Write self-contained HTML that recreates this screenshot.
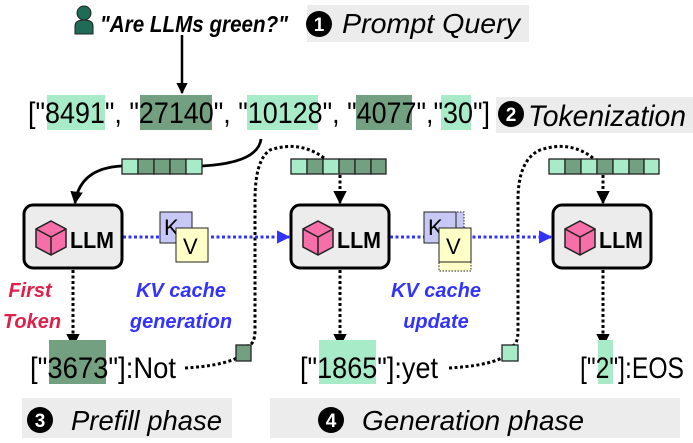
<!DOCTYPE html>
<html><head><meta charset="utf-8"><style>body{margin:0;background:#fff}svg{display:block}text{font-family:"Liberation Sans",sans-serif}</style></head>
<body>
<svg width="693" height="443" viewBox="0 0 693 443" xmlns="http://www.w3.org/2000/svg">
<defs>
<marker id="ah" viewBox="0 0 10 10" refX="9" refY="5" markerWidth="4.5" markerHeight="4.5" orient="auto"><path d="M0,0 L10,5 L0,10 z" fill="#000"/></marker>
<marker id="ahb" viewBox="0 0 10 10" refX="9" refY="5" markerWidth="4.5" markerHeight="4.5" orient="auto"><path d="M0,0 L10,5 L0,10 z" fill="#3333ff"/></marker>
<g id="cube"><path d="M15,0 L30,8 L30,26 L15,34 L0,26 L0,8 Z" fill="#f76fa8" stroke="#222" stroke-width="1.5"/><path d="M0,8 L15,16 L30,8 M15,16 L15,34" fill="none" stroke="#222" stroke-width="1.5"/></g>
</defs>
<circle cx="84" cy="13" r="7" fill="#1f6b55" stroke="#222" stroke-width="1"/>
<path d="M75,34 L75,26 Q75,20 84,20 Q93,20 93,26 L93,34 Z" fill="#1f6b55" stroke="#222" stroke-width="1"/>
<text x="100" y="32" font-size="23" font-weight="bold" font-style="italic" textLength="188" lengthAdjust="spacingAndGlyphs">"Are LLMs green?"</text>
<rect x="307" y="5" width="222" height="37" fill="#ececec"/>
<circle cx="319" cy="24" r="13" fill="#000"/><text x="319" y="31" font-size="19" font-weight="bold" fill="#fff" text-anchor="middle">1</text>
<text x="342" y="33" font-size="28" font-style="italic" textLength="178" lengthAdjust="spacingAndGlyphs">Prompt Query</text>
<line x1="182" y1="35" x2="182" y2="93" stroke="#000" stroke-width="2.5" marker-end="url(#ah)"/>
<rect x="47" y="95" width="58" height="35" fill="#a8ebc8"/>
<rect x="140" y="95" width="72" height="35" fill="#73a080"/>
<rect x="247" y="95" width="71" height="35" fill="#a8ebc8"/>
<rect x="356" y="95" width="56" height="35" fill="#73a080"/>
<rect x="441" y="95" width="30" height="35" fill="#a8ebc8"/>
<text x="28" y="123" font-size="30" textLength="462" lengthAdjust="spacingAndGlyphs">["8491", "27140", "10128", "4077","30"]</text>
<rect x="496" y="97" width="197" height="36" fill="#ececec"/>
<circle cx="511" cy="114" r="13" fill="#000"/><text x="511" y="121" font-size="19" font-weight="bold" fill="#fff" text-anchor="middle">2</text>
<text x="528" y="126" font-size="30" font-style="italic" textLength="158" lengthAdjust="spacingAndGlyphs">Tokenization</text>
<path d="M261,139 Q258,163 202,166 L122,166 Q80,168 75,203" fill="none" stroke="#000" stroke-width="2.8" marker-end="url(#ah)"/>
<g stroke="#222" stroke-width="1.3">
<rect x="122" y="159" width="16" height="15" fill="#a8ebc8"/><rect x="138" y="159" width="16" height="15" fill="#73a080"/><rect x="154" y="159" width="16" height="15" fill="#73a080"/><rect x="170" y="159" width="16" height="15" fill="#73a080"/><rect x="186" y="159" width="16" height="15" fill="#a8ebc8"/>
<rect x="291" y="159" width="16" height="15" fill="#a8ebc8"/><rect x="307" y="159" width="16" height="15" fill="#73a080"/><rect x="323" y="159" width="16" height="15" fill="#a8ebc8"/><rect x="339" y="159" width="16" height="15" fill="#73a080"/><rect x="355" y="159" width="16" height="15" fill="#73a080"/><rect x="371" y="159" width="15" height="15" fill="#73a080"/>
<rect x="549" y="159" width="16" height="15" fill="#a8ebc8"/><rect x="565" y="159" width="16" height="15" fill="#73a080"/><rect x="581" y="159" width="16" height="15" fill="#a8ebc8"/><rect x="597" y="159" width="16" height="15" fill="#73a080"/><rect x="613" y="159" width="16" height="15" fill="#a8ebc8"/><rect x="629" y="159" width="15" height="15" fill="#73a080"/><rect x="644" y="159" width="15" height="15" fill="#a8ebc8"/>
</g>
<g fill="none" stroke="#000" stroke-width="3" stroke-dasharray="3,2.5">
<path d="M324,158 Q300,140 270,150 Q255,160 255,200 L255,330 Q255,345 247,346"/>
<path d="M593,158 Q570,140 540,150 Q518,160 518,200 L518,330 Q518,345 512,346"/>
<path d="M185,368 Q220,366 237,358"/>
<path d="M449,368 Q485,366 502,358"/>
<line x1="340" y1="175" x2="340" y2="203" marker-end="url(#ah)"/>
<line x1="603" y1="175" x2="603" y2="203" marker-end="url(#ah)"/>
<line x1="73" y1="270" x2="73" y2="346" marker-end="url(#ah)"/>
<line x1="340" y1="270" x2="340" y2="346" marker-end="url(#ah)"/>
<line x1="603" y1="270" x2="603" y2="346" marker-end="url(#ah)"/>
</g>
<rect x="236" y="345" width="15" height="16" fill="#73a080" stroke="#222" stroke-width="1.3"/>
<rect x="502" y="345" width="16" height="16" fill="#a8ebc8" stroke="#222" stroke-width="1.3"/>
<g stroke="#3333ff" stroke-width="3" stroke-dasharray="3,2.5" fill="none">
<line x1="123" y1="237" x2="289" y2="237" marker-end="url(#ahb)"/>
<line x1="390" y1="237" x2="551" y2="237" marker-end="url(#ahb)"/>
</g>
<g>
<rect x="24" y="205" width="98" height="63" rx="9" fill="#ececec" stroke="#000" stroke-width="3"/>
<use href="#cube" x="36" y="221"/><text x="70" y="248" font-size="23" font-weight="bold" textLength="44" lengthAdjust="spacingAndGlyphs">LLM</text>
<rect x="291" y="205" width="98" height="63" rx="9" fill="#ececec" stroke="#000" stroke-width="3"/>
<use href="#cube" x="303" y="221"/><text x="337" y="248" font-size="23" font-weight="bold" textLength="44" lengthAdjust="spacingAndGlyphs">LLM</text>
<rect x="553" y="205" width="98" height="63" rx="9" fill="#ececec" stroke="#000" stroke-width="3"/>
<use href="#cube" x="565" y="221"/><text x="599" y="248" font-size="23" font-weight="bold" textLength="44" lengthAdjust="spacingAndGlyphs">LLM</text>
</g>
<rect x="160" y="212" width="32" height="31" fill="#c8c8f5" stroke="#222" stroke-width="1"/><text x="164" y="235" font-size="22">K</text>
<rect x="176" y="228" width="32" height="34" fill="#ffffc8" stroke="#222" stroke-width="1"/><text x="183" y="254" font-size="22">V</text>
<rect x="424" y="212" width="40" height="31" fill="#c8c8f5" stroke="#222" stroke-width="1" stroke-dasharray="1.5,1.5"/>
<rect x="424" y="212" width="32" height="31" fill="#c8c8f5" stroke="#222" stroke-width="1"/><text x="428" y="235" font-size="22">K</text>
<rect x="439" y="228" width="32" height="43" fill="#ffffc8" stroke="#222" stroke-width="1" stroke-dasharray="1.5,1.5"/>
<rect x="439" y="228" width="32" height="34" fill="#ffffc8" stroke="#222" stroke-width="1"/><text x="446" y="254" font-size="22">V</text>
<g font-weight="bold" font-style="italic" font-size="20" fill="#3333ff" text-anchor="middle">
<text x="181" y="297">KV cache</text><text x="181" y="328">generation</text>
<text x="436" y="297">KV cache</text><text x="436" y="328">update</text>
</g>
<g font-weight="bold" font-style="italic" font-size="20" fill="#e0204a" text-anchor="middle">
<text x="30" y="297">First</text><text x="32" y="328">Token</text>
</g>
<rect x="49" y="340" width="57" height="44" fill="#73a080"/>
<rect x="319" y="340" width="57" height="44" fill="#a8ebc8"/>
<rect x="598" y="340" width="15" height="44" fill="#a8ebc8"/>
<text x="30" y="378" font-size="30" textLength="146" lengthAdjust="spacingAndGlyphs">["3673"]:Not</text>
<text x="300" y="378" font-size="30" textLength="138" lengthAdjust="spacingAndGlyphs">["1865"]:yet</text>
<text x="580" y="378" font-size="30" textLength="104" lengthAdjust="spacingAndGlyphs">["2"]:EOS</text>
<rect x="22" y="398" width="210" height="40" fill="#ececec"/>
<circle cx="40" cy="420" r="13" fill="#000"/><text x="40" y="427" font-size="19" font-weight="bold" fill="#fff" text-anchor="middle">3</text>
<text x="71" y="430" font-size="28" font-style="italic" textLength="151" lengthAdjust="spacingAndGlyphs">Prefill phase</text>
<rect x="270" y="398" width="410" height="40" fill="#ececec"/>
<circle cx="331" cy="420" r="13" fill="#000"/><text x="331" y="427" font-size="19" font-weight="bold" fill="#fff" text-anchor="middle">4</text>
<text x="362" y="430" font-size="28" font-style="italic" textLength="222" lengthAdjust="spacingAndGlyphs">Generation phase</text>
</svg>
</body></html>
